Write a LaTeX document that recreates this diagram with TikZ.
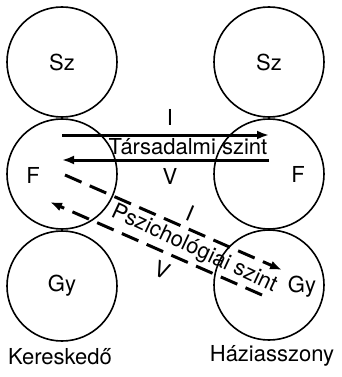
\documentclass[tikz,border=0pt]{standalone}
\usepackage{fontspec}
\setmainfont{TeX Gyre Heros}
\usetikzlibrary{arrows.meta,positioning}
\tikzstyle{person}=[circle,draw,line width=1.6pt,minimum size=110pt,inner sep=0pt]
\tikzstyle{tag}=[font=\fontsize{22}{24}\selectfont,inner sep=0pt]
\tikzstyle{level} = [draw,line width=3pt,-{Latex[length=12pt,width=9pt]}]
\tikzstyle{deep} = [level,dash pattern=on 18pt off 9pt]

\begin{document}
\begin{tikzpicture}[x=1pt,y=-1pt]
\useasboundingbox (0,0) rectangle (341,377);

% the two people, three levels each
\foreach \pos/\name in {{(62,62)/lSz}, {(62,174)/lF}, {(62,286)/lGy}, {(269,62)/rSz}, {(269,174)/rF}, {(269,285)/rGy}}
\node[person] (\name) at \pos {};

% letters in the circles and names below
\foreach \pos/\name/\txt in {{(62,62)/tlSz/Sz}, {(33,175)/tlF/F}, {(62,286)/tlGy/Gy}, {(269,62)/trSz/Sz}, {(298,174)/trF/F}, {(302,287)/trGy/Gy}, {(60,357)/tK/Kereskedő}, {(272,356)/tH/Háziasszony}}
\node[tag] (\name) at \pos {\txt};

% social level
\path[level] ([yshift=39pt]lF.center) -- ([yshift=39pt]rF.center);
\path[level] ([yshift=14pt]rF.center) -- ([yshift=14pt]lF.center);
\node[tag] (soc) at (188,147) {Társadalmi szint};
\node[tag] (socI) at (170,117) {I};
\node[tag] (socV) at (170,176) {V};

% psychological level
\path[deep] ([xshift=3pt,yshift=-1pt]lF.center) -- ([xshift=13pt,yshift=15pt]rGy.center);
\path[deep] ([xshift=-7pt,yshift=-10pt]rGy.center) -- ([xshift=-12pt,yshift=-28pt]lF.center);
\node[tag,rotate=-25] (psy) at (194,249) {Pszichológiai szint};
\node[tag,rotate=-23] (psyI) at (190,213) {I};
\node[tag,rotate=-23] (psyV) at (162,270) {V};

\end{tikzpicture}
\end{document}
